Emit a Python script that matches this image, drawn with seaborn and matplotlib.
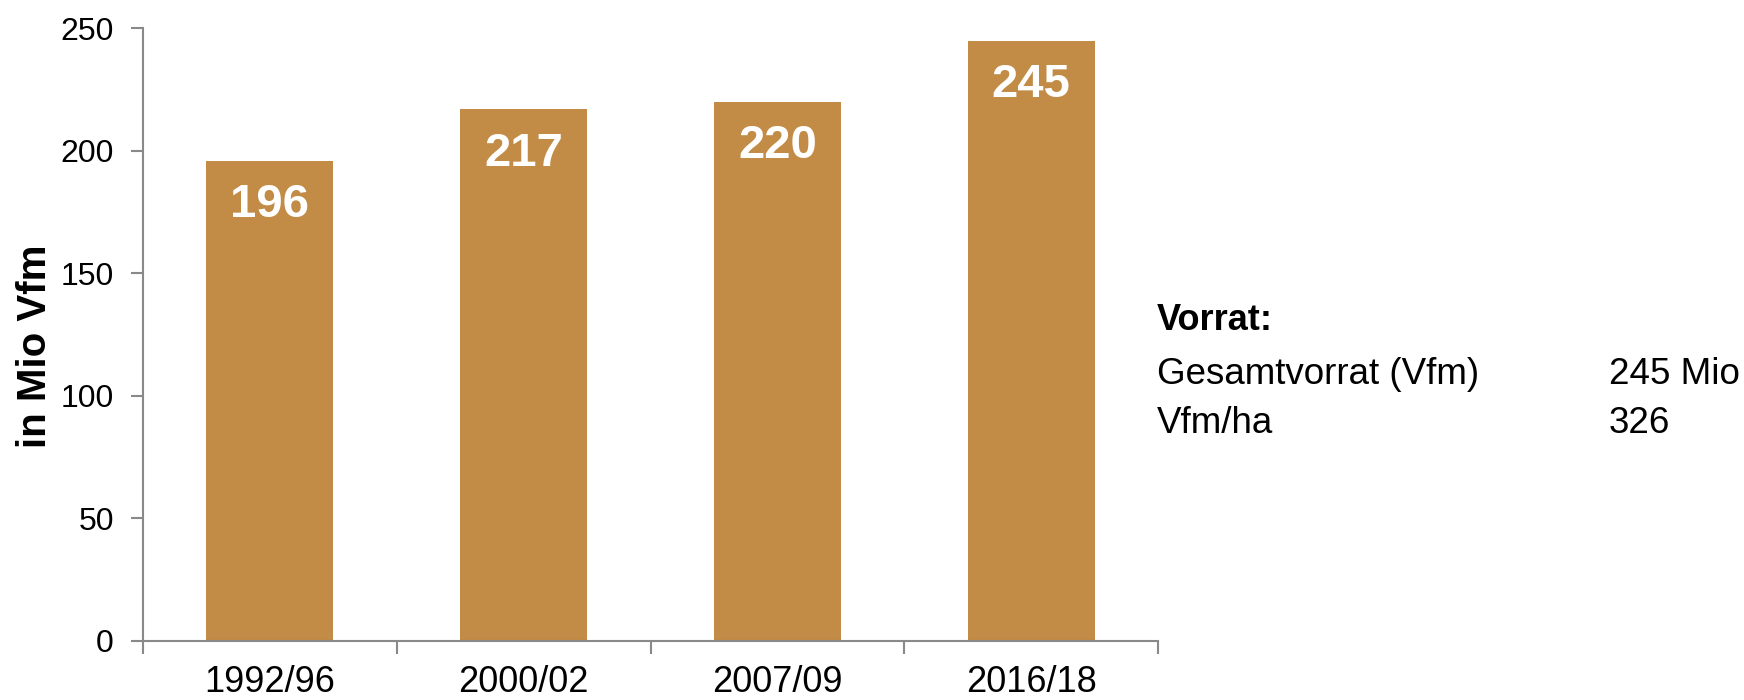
import matplotlib
matplotlib.use("Agg")
import matplotlib.pyplot as plt
import seaborn as sns
import pandas as pd
from matplotlib.ticker import FixedLocator

periods = ["1992/96", "2000/02", "2007/09", "2016/18"]
vorrat = [196, 217, 220, 245]
y_ticks = [0, 50, 100, 150, 200, 250]
info_title = "Vorrat:"
info_labels = ["Gesamtvorrat (Vfm)", "Vfm/ha"]
info_values = ["245 Mio", "326"]

sns.set_theme(style="white")
plt.rcParams["font.family"] = ["Liberation Sans", "DejaVu Sans"]
plt.rcParams["text.color"] = "black"

df = pd.DataFrame({"Periode": periods, "Vorrat": vorrat})

fig = plt.figure(figsize=(17.44, 7.0), dpi=100)
ax = fig.add_axes([143 / 1744, 1 - 640.5 / 700, (1158 - 143) / 1744, (640.5 - 28.3) / 700])

bar_color = "#C28B46"
sns.barplot(data=df, x="Periode", y="Vorrat", color=bar_color, saturation=1,
            width=0.5, ax=ax, edgecolor="none")

ax.set_xlim(-0.5, len(periods) - 0.5)
ax.set_ylim(0, 250)
ax.set_yticks(y_ticks)
ax.set_yticklabels([str(t) for t in y_ticks])

for s in ["top", "right"]:
    ax.spines[s].set_visible(False)
for s in ["left", "bottom"]:
    ax.spines[s].set_color("#898989")
    ax.spines[s].set_linewidth(1.5)

ax.tick_params(axis="y", which="major", left=True, length=9, width=1.5, color="#898989",
               labelsize=23, pad=12, labelcolor="black")
ax.tick_params(axis="x", which="major", bottom=False, length=0, labelsize=26, pad=18,
               labelcolor="black")
ax.xaxis.set_minor_locator(FixedLocator([i - 0.5 for i in range(len(periods) + 1)]))
ax.tick_params(axis="x", which="minor", bottom=True, length=9, width=1.5, color="#898989")

ax.set_xlabel("")
ax.set_ylabel("")
fig.text(35 / 1744, 1 - 346 / 700, "in Mio Vfm", rotation=90, fontsize=29,
         fontweight="bold", color="black", ha="center", va="center")

for i, v in enumerate(vorrat):
    ax.annotate(str(v), xy=(i, v), xytext=(0, -32), textcoords="offset points",
                ha="center", va="center", fontsize=34, fontweight="bold", color="white")

x0 = 1157 / 1744
x1 = 1609 / 1744
fig.text(x0, 1 - 330 / 700, info_title, fontsize=26, fontweight="bold",
         va="baseline", ha="left", color="black")
baselines = [384, 433]
for lab, val, b in zip(info_labels, info_values, baselines):
    yy = 1 - b / 700
    fig.text(x0, yy, lab, fontsize=26.5, va="baseline", ha="left", color="black")
    fig.text(x1, yy, val, fontsize=26.5, va="baseline", ha="left", color="black")

fig.savefig("out.png", dpi=100, facecolor="white")
